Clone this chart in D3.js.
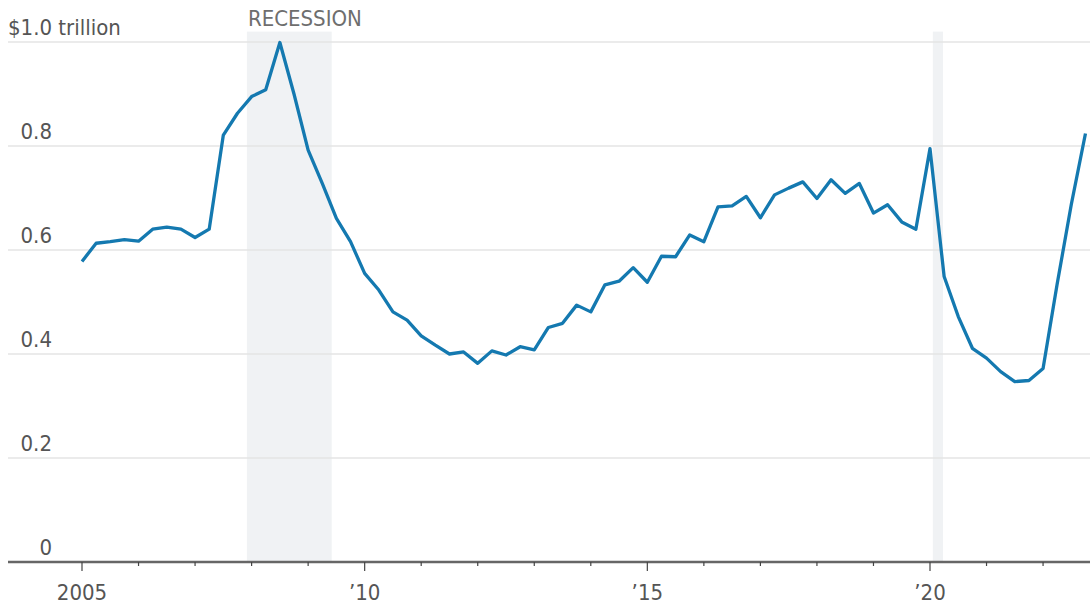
<!DOCTYPE html>
<html>
<head>
<meta charset="utf-8">
<script src="https://cdn.jsdelivr.net/npm/d3@7"></script>
<style>
  html, body { margin: 0; padding: 0; background: #fff; }
  svg { display: block; }
  text { font-family: "Liberation Sans Narrow", "Arial Narrow", "DejaVu Sans Condensed", sans-serif; }
</style>
</head>
<body>
<svg id="chart" width="1090" height="608"></svg>
<script>
const quarters = [
  "2005Q1","2005Q2","2005Q3","2005Q4","2006Q1","2006Q2","2006Q3","2006Q4",
  "2007Q1","2007Q2","2007Q3","2007Q4","2008Q1","2008Q2","2008Q3","2008Q4",
  "2009Q1","2009Q2","2009Q3","2009Q4","2010Q1","2010Q2","2010Q3","2010Q4",
  "2011Q1","2011Q2","2011Q3","2011Q4","2012Q1","2012Q2","2012Q3","2012Q4",
  "2013Q1","2013Q2","2013Q3","2013Q4","2014Q1","2014Q2","2014Q3","2014Q4",
  "2015Q1","2015Q2","2015Q3","2015Q4","2016Q1","2016Q2","2016Q3","2016Q4",
  "2017Q1","2017Q2","2017Q3","2017Q4","2018Q1","2018Q2","2018Q3","2018Q4",
  "2019Q1","2019Q2","2019Q3","2019Q4","2020Q1","2020Q2","2020Q3","2020Q4",
  "2021Q1","2021Q2","2021Q3","2021Q4","2022Q1","2022Q2","2022Q3","2022Q4"
];
const values = [
  0.578, 0.613, 0.616, 0.620, 0.617, 0.640, 0.644, 0.640,
  0.624, 0.640, 0.821, 0.863, 0.895, 0.908, 0.999, 0.900,
  0.792, 0.728, 0.661, 0.616, 0.555, 0.523, 0.481, 0.465,
  0.435, 0.417, 0.400, 0.404, 0.382, 0.406, 0.398, 0.414,
  0.408, 0.451, 0.459, 0.494, 0.481, 0.533, 0.540, 0.566,
  0.538, 0.588, 0.587, 0.629, 0.616, 0.683, 0.685, 0.703,
  0.662, 0.706, 0.719, 0.731, 0.699, 0.735, 0.709, 0.728,
  0.671, 0.687, 0.654, 0.640, 0.795, 0.549, 0.472, 0.411,
  0.392, 0.366, 0.347, 0.349, 0.372, 0.535, 0.688, 0.824
];
const yTicks = [0, 0.2, 0.4, 0.6, 0.8, 1.0];
const yTickLabels = ["0", "0.2", "0.4", "0.6", "0.8", "$1.0 trillion"];
const xMajorTicks = [2005, 2010, 2015, 2020];
const xMajorLabels = ["2005", "\u201910", "\u201915", "\u201920"];
const xMinorTicks = [2006, 2007, 2008, 2009, 2011, 2012, 2013, 2014, 2016, 2017, 2018, 2019, 2021, 2022];
const recessions = [[2007.917, 2009.417], [2020.05, 2020.23]];
const recessionLabel = "RECESSION";

function qToYear(q) {
  return +q.slice(0, 4) + (+q.slice(5) - 1) / 4;
}

const svg = d3.select("#chart");
const x = d3.scaleLinear().domain([2005, 2020]).range([82, 930]);
const y = d3.scaleLinear().domain([0, 1]).range([562, 42]);
const left = 8, right = 1090;

// recession bands
svg.append("g").selectAll("rect").data(recessions).join("rect")
  .attr("x", d => x(d[0]))
  .attr("width", d => x(d[1]) - x(d[0]))
  .attr("y", y(1.02))
  .attr("height", y(0) - y(1.02))
  .attr("fill", "#f0f2f4");

svg.append("text")
  .attr("x", x(recessions[0][0]) + 1)
  .attr("y", 26)
  .attr("fill", "#6e6e6e")
  .attr("font-size", 22)
  .text(recessionLabel);

// gridlines
svg.append("g").selectAll("line").data(yTicks.filter(d => d > 0)).join("line")
  .attr("x1", left).attr("x2", right)
  .attr("y1", d => y(d)).attr("y2", d => y(d))
  .attr("stroke", "#e4e4e4").attr("stroke-width", 1.5);

// y labels
svg.append("g").selectAll("text").data(yTicks).join("text")
  .attr("x", (d, i) => i === yTicks.length - 1 ? left : 52)
  .attr("y", d => y(d) - 7)
  .attr("text-anchor", (d, i) => i === yTicks.length - 1 ? "start" : "end")
  .attr("fill", "#555")
  .attr("font-size", 22)
  .text((d, i) => yTickLabels[i]);

// line
const line = d3.line()
  .x((d, i) => x(qToYear(quarters[i])))
  .y(d => y(d));
svg.append("path")
  .datum(values)
  .attr("d", line)
  .attr("fill", "none")
  .attr("stroke", "#1479b0")
  .attr("stroke-width", 3.3)
  .attr("stroke-linejoin", "round");

// x axis
svg.append("line")
  .attr("x1", left).attr("x2", right)
  .attr("y1", y(0)).attr("y2", y(0))
  .attr("stroke", "#666").attr("stroke-width", 2.4);

svg.append("g").selectAll("line").data(xMajorTicks).join("line")
  .attr("x1", d => x(d)).attr("x2", d => x(d))
  .attr("y1", y(0)).attr("y2", y(0) + 9)
  .attr("stroke", "#444").attr("stroke-width", 1.2);

svg.append("g").selectAll("line").data(xMinorTicks).join("line")
  .attr("x1", d => x(d)).attr("x2", d => x(d))
  .attr("y1", y(0)).attr("y2", y(0) + 4)
  .attr("stroke", "#444").attr("stroke-width", 1.2);

svg.append("g").selectAll("text").data(xMajorTicks).join("text")
  .attr("x", d => x(d))
  .attr("y", 600)
  .attr("text-anchor", "middle")
  .attr("fill", "#555")
  .attr("font-size", 22)
  .text((d, i) => xMajorLabels[i]);
</script>
</body>
</html>
